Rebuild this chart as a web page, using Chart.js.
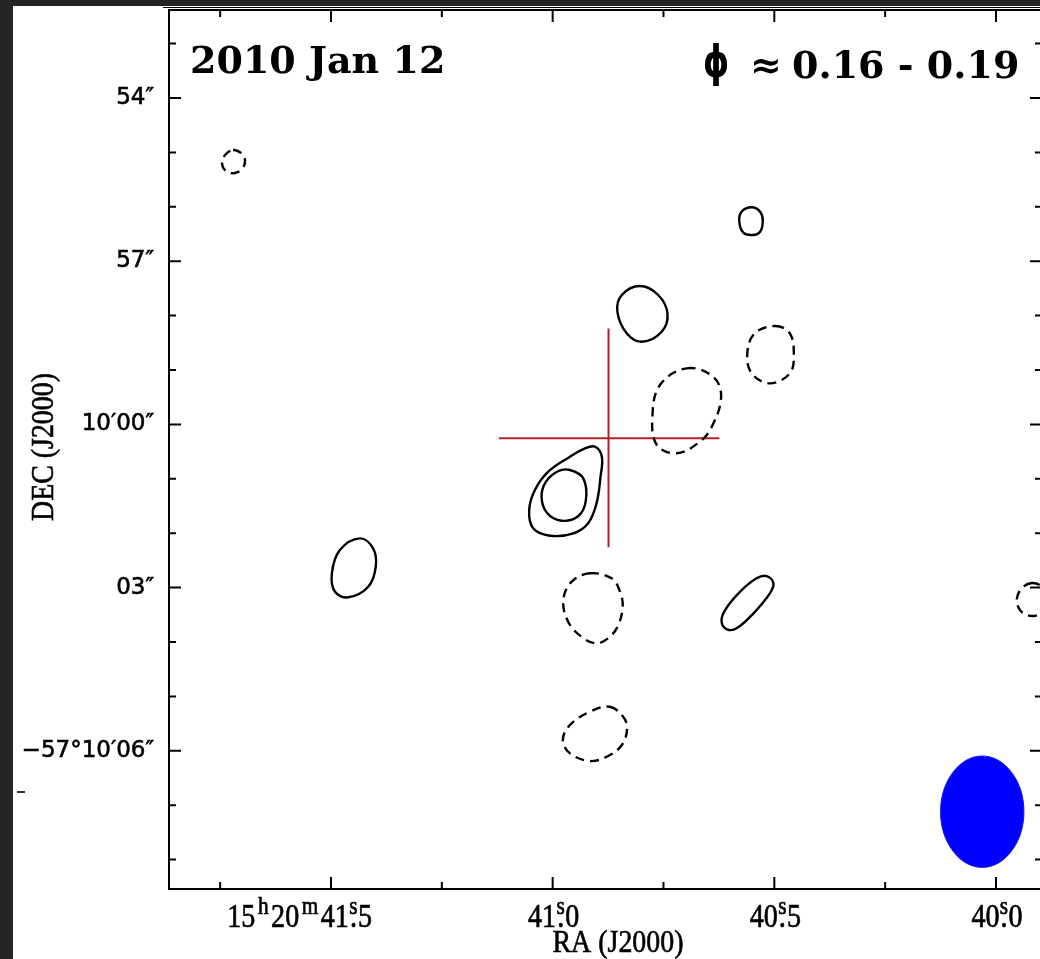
<!DOCTYPE html>
<html><head><meta charset="utf-8">
<script src="https://cdn.jsdelivr.net/npm/chart.js@4/dist/chart.umd.min.js"></script>
<style>
html,body{margin:0;padding:0;background:#242424;overflow:hidden;width:1040px;height:959px;}
#wrap{position:absolute;left:13px;top:6px;width:1027px;height:953px;background:#fff;overflow:hidden;}
canvas{position:absolute;left:0;top:0;}
</style></head><body>
<div id="wrap"><canvas id="c" width="1047" height="953"></canvas></div>
<script>
// ---- axis ticks / labels (RA in seconds of 15h20m, Dec offset in arcsec from -57°10'00") ----
const raMajor = [41.5, 41.0, 40.5, 40.0];
const raMinor = [41.75, 41.25, 40.75, 40.25];
const raLabels = ["15h20m41.5", "41.0", "40.5", "40.0"];
const decMajor = [6, 3, 0, -3, -6];
const decMinor = [7, 5, 4, 2, 1, -1, -2, -4, -5, -7, -8];
const decLabels = ["54\u2033", "57\u2033", "10\u203200\u2033", "03\u2033", "\u221257\u00b010\u203206\u2033"];

// ---- positive (solid) contours: [RA s, Dec offset "] ----
const posNE = [[40.551,3.991],[40.532,3.910],[40.526,3.744],[40.532,3.542],[40.549,3.482],[40.570,3.524],[40.579,3.726],[40.574,3.910]];
const posN = [[40.803,2.544],[40.762,2.379],[40.741,2.042],[40.754,1.704],[40.799,1.520],[40.833,1.675],[40.854,2.072],[40.844,2.379]];
const posCoreOuter = [[40.904,-0.410],[40.889,-0.594],[40.892,-0.961],[40.901,-1.450],[40.920,-1.818],[40.953,-2.002],[41.006,-2.046],[41.044,-1.910],[41.053,-1.573],[41.040,-1.206],[41.010,-0.869],[40.961,-0.594],[40.927,-0.439]];
const posCoreInner = [[40.961,-0.838],[40.931,-0.991],[40.925,-1.390],[40.942,-1.684],[40.980,-1.770],[41.013,-1.623],[41.025,-1.329],[41.015,-1.053],[40.987,-0.857]];
const posW = [[41.435,-2.094],[41.405,-2.278],[41.399,-2.616],[41.416,-2.983],[41.461,-3.178],[41.491,-3.075],[41.498,-2.737],[41.480,-2.309]];
const posSE = [[40.517,-2.787],[40.502,-2.921],[40.510,-3.105],[40.547,-3.472],[40.585,-3.748],[40.607,-3.766],[40.619,-3.627],[40.611,-3.412],[40.577,-3.075],[40.540,-2.829]];

// ---- negative (dashed) contours ----
const negNW = [[41.721,5.044],[41.703,4.989],[41.694,4.860],[41.699,4.713],[41.717,4.621],[41.737,4.658],[41.746,4.805],[41.739,4.952]];
const negE = [[40.498,1.809],[40.465,1.675],[40.456,1.276],[40.465,0.939],[40.510,0.755],[40.551,0.939],[40.561,1.307],[40.544,1.675]];
const negMid = [[40.698,1.031],[40.638,0.877],[40.620,0.509],[40.641,-0.042],[40.668,-0.318],[40.720,-0.531],[40.765,-0.379],[40.775,0.142],[40.758,0.724]];
const negS1 = [[40.916,-2.737],[40.867,-2.829],[40.848,-3.075],[40.842,-3.351],[40.852,-3.687],[40.871,-3.903],[40.901,-4.024],[40.935,-3.903],[40.965,-3.627],[40.976,-3.228],[40.957,-2.891]];
const negS2 = [[40.871,-5.189],[40.841,-5.373],[40.832,-5.586],[40.844,-5.893],[40.878,-6.108],[40.916,-6.187],[40.961,-6.046],[40.977,-5.801],[40.961,-5.526],[40.916,-5.281]];
const negEdge = [[39.919,-2.915],[39.941,-3.007],[39.953,-3.209],[39.944,-3.430],[39.919,-3.522],[39.896,-3.448],[39.887,-3.228],[39.896,-2.989]];

// ---- source position cross and synthesized beam ----
const crossH = [[41.121,-0.256],[40.624,-0.256]];
const crossV = [[40.874,1.763],[40.874,-2.259]];
const beam = [[39.937,-7.119],[39.944,-6.727],[39.965,-6.395],[39.995,-6.173],[40.031,-6.095],[40.067,-6.173],[40.097,-6.395],[40.118,-6.727],[40.125,-7.119],[40.118,-7.511],[40.097,-7.843],[40.067,-8.065],[40.031,-8.143],[39.995,-8.065],[39.965,-7.843],[39.944,-7.511]];

const toPts = a => a.map(p => ({x: p[0], y: p[1]}));
// closed loop: wrap one point on each side so the spline is smooth at the seam,
// the two wrap segments are drawn transparent.
const loop = a => toPts([a[a.length - 1]].concat(a, [a[0], a[1]]));
const seamHidden = (color, n) => ({
  borderColor: c => (c.p0DataIndex === 0 || c.p1DataIndex === n + 2) ? 'rgba(0,0,0,0)' : color
});

function contour(arr, dashed) {
  return {data: loop(arr), showLine: true, pointRadius: 0, borderColor: '#000', borderWidth: 2.4,
          borderDash: dashed ? [9, 6] : [], tension: 0.38, fill: false,
          segment: seamHidden('#000', arr.length)};
}

const datasets = [
  {data: loop(beam), showLine: true, pointRadius: 0, borderColor: '#1a1ae6', borderWidth: 1,
   backgroundColor: '#0000ff', fill: 'shape', tension: 0.35, segment: seamHidden('#1a1ae6', beam.length)},
  contour(posNE, false), contour(posN, false), contour(posCoreOuter, false), contour(posCoreInner, false),
  contour(posW, false), contour(posSE, false),
  contour(negNW, true), contour(negE, true), contour(negMid, true), contour(negS1, true), contour(negS2, true), contour(negEdge, true),
  {data: toPts(crossH), showLine: true, pointRadius: 0, borderColor: '#b32025', borderWidth: 2, tension: 0},
  {data: toPts(crossV), showLine: true, pointRadius: 0, borderColor: '#b32025', borderWidth: 2, tension: 0}
];

const SERIF = '"Liberation Serif"';
function drawRaLabel(ctx, label, xTick, base) {
  const F = 33, sx = 0.85;
  const big = F + 'px ' + SERIF, small = Math.round(F * 0.75) + 'px ' + SERIF;
  const pieces = [];
  for (const ch of label) {
    if (ch === 'h' || ch === 'm') pieces.push({t: ch, sup: true, pad: 6});
    else if (ch === '.') pieces.push({t: 's', sup: true, dot: true, pad: 1});
    else pieces.push({t: ch, pad: 0});
  }
  let w = 0;
  for (const p of pieces) {
    ctx.font = p.sup ? small : big;
    p.w = ctx.measureText(p.t).width + p.pad;
    p.x = w;
    w += p.w;
  }
  const full = label.indexOf('h') >= 0;
  const start = full ? xTick + 41 - w * sx : xTick + 1 - w * sx / 2;
  ctx.save();
  ctx.translate(start, base);
  ctx.scale(sx, 1);
  ctx.textAlign = 'left'; ctx.textBaseline = 'alphabetic';
  ctx.lineWidth = 0.7; ctx.strokeStyle = '#000';
  const put = (t, px, py) => { ctx.fillText(t, px, py); ctx.strokeText(t, px, py); };
  for (const p of pieces) {
    ctx.font = p.sup ? small : big;
    put(p.t, p.x + p.pad / 2, p.sup ? -F * 0.40 : 0);
    if (p.dot) {
      ctx.font = big;
      const dw = ctx.measureText('.').width;
      put('.', p.x + (p.w - dw) / 2, 0);
    }
  }
  ctx.restore();
}

function squeezedText(ctx, text, cx, cy, font, sx) {
  ctx.save();
  ctx.translate(cx, cy); ctx.scale(sx, 1);
  ctx.font = font; ctx.textAlign = 'center';
  ctx.lineWidth = 0.6; ctx.strokeStyle = '#000';
  ctx.fillText(text, 0, 0); ctx.strokeText(text, 0, 0);
  ctx.restore();
}

const framePlugin = {
  id: 'frame',
  afterDraw(chart) {
    const {ctx, chartArea: a, scales: {x, y}} = chart;
    ctx.save();
    ctx.strokeStyle = '#000'; ctx.lineWidth = 2;
    ctx.strokeRect(a.left, a.top, a.right - a.left, a.bottom - a.top);
    ctx.beginPath();
    const vt = (v, len) => { const px = x.getPixelForValue(v);
      ctx.moveTo(px, a.bottom); ctx.lineTo(px, a.bottom - len);
      ctx.moveTo(px, a.top); ctx.lineTo(px, a.top + len); };
    const ht = (v, len) => { const py = y.getPixelForValue(v);
      ctx.moveTo(a.left, py); ctx.lineTo(a.left + len, py);
      ctx.moveTo(a.right, py); ctx.lineTo(a.right - len, py); };
    raMajor.forEach(v => vt(v, 12)); raMinor.forEach(v => vt(v, 7));
    decMajor.forEach(v => ht(v, 12)); decMinor.forEach(v => ht(v, 7));
    ctx.stroke();
    // thin line just above the frame (edge of the panel above)
    ctx.lineWidth = 1;
    ctx.beginPath(); ctx.moveTo(150, a.top - 2.5); ctx.lineTo(a.right + 20, a.top - 2.5); ctx.stroke();

    // text in page coordinates
    ctx.translate(-13, -6);
    ctx.fillStyle = '#000';
    raMajor.forEach((v, i) => drawRaLabel(ctx, raLabels[i], x.getPixelForValue(v) + 13, 927));
    ctx.textBaseline = 'alphabetic';
    squeezedText(ctx, 'RA (J2000)', 618, 952, '31px ' + SERIF, 0.9);
    ctx.save();
    ctx.translate(45, 447); ctx.rotate(-Math.PI / 2);
    ctx.textBaseline = 'middle';
    squeezedText(ctx, 'DEC (J2000)', 0, 0, '31px ' + SERIF, 0.9);
    ctx.restore();
    // titles
    ctx.textAlign = 'left'; ctx.textBaseline = 'alphabetic';
    ctx.font = 'bold 38px "DejaVu Serif"';
    ctx.fillText('2010 Jan 12', 190, 73);
    ctx.save();
    ctx.translate(703, 77); ctx.scale(0.75, 1);
    ctx.font = 'bold 44px "DejaVu Sans"';
    ctx.fillText('\u03d5', 0, 0);
    ctx.restore();
    ctx.font = 'bold 38px "DejaVu Serif"';
    ctx.fillText('\u2248', 750, 78);
    ctx.fillText('0.16 - 0.19', 792, 78);
    // stray mark at left margin
    ctx.fillStyle = '#333';
    ctx.fillRect(17, 791, 8, 2);
    ctx.restore();
  }
};

new Chart(document.getElementById('c').getContext('2d'), {
  type: 'scatter',
  data: {datasets},
  options: {
    responsive: false, animation: false,
    layout: {padding: {left: 0, right: 18, top: 4, bottom: 0}},
    plugins: {legend: {display: false}, tooltip: {enabled: false}},
    scales: {
      x: {type: 'linear', reverse: true, min: 39.8962, max: 41.8654,
          grid: {display: false, drawTicks: false}, border: {display: false}, ticks: {display: false},
          afterFit(s) { s.height = 70; s.paddingLeft = 0; s.paddingRight = 0; s.paddingTop = 0; s.paddingBottom = 0; }},
      y: {type: 'linear', min: -8.540, max: 7.618,
          grid: {display: false, drawTicks: false}, border: {display: false},
          afterBuildTicks(s) { s.ticks = decMajor.map(v => ({value: v})); },
          ticks: {padding: 15, color: '#000', font: {family: 'DejaVu Sans', size: 23},
                  textStrokeColor: '#000', textStrokeWidth: 0.6,
                  callback(v) { const i = decMajor.indexOf(v); return i >= 0 ? decLabels[i] : ''; }},
          afterFit(s) { s.width = 156; s.paddingTop = 0; s.paddingBottom = 0; s.paddingLeft = 0; s.paddingRight = 0; }}
    }
  },
  plugins: [framePlugin]
});
</script>
</body></html>
